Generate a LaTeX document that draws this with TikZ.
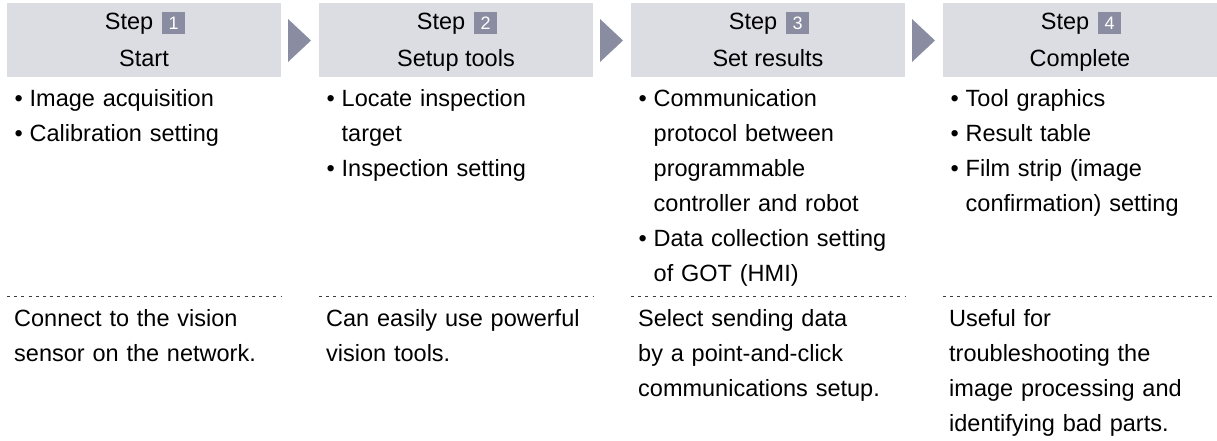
\documentclass[tikz,border=0pt]{standalone}
\usepackage{fontspec}
\setmainfont{Liberation Sans}
\definecolor{hdrfill}{RGB}{220,220,227}
\definecolor{accent}{RGB}{138,141,161}
\definecolor{sepcol}{RGB}{60,60,60}
\newcommand{\numbox}[1]{\raisebox{-4pt}{{\setlength{\fboxsep}{0pt}\colorbox{accent}{\parbox[b][22pt][c]{23pt}{\centering\color{white}\fontsize{18}{18}\selectfont #1}}}}}
\newcommand{\bul}{\makebox[15pt][l]{•}}
\newcommand{\cont}{\hspace*{15pt}}
\newcommand{\firstline}{\rule{0pt}{20pt}}
\tikzset{
  hdr/.style={fill=hdrfill, minimum width=274pt, minimum height=74pt, inner sep=0pt, anchor=north west},
  hdrtxt/.style={anchor=base, inner sep=0pt, font=\fontsize{23.5}{28}\selectfont},
  bodytxt/.style={anchor=north west, inner sep=0pt, text width=272pt, align=left,
    font=\fontsize{23.5}{35}\selectfont\setlength{\parindent}{0pt}\setlength{\parskip}{0pt}},
  sepline/.style={draw=sepcol, line width=0.9pt, dash pattern=on 3pt off 4.2pt},
  steparrow/.style={fill=accent}
}
\begin{document}
\begin{tikzpicture}[x=1pt,y=-1pt]
\useasboundingbox (0,0) rectangle (1217,441);
% header boxes
\node[hdr] (h1) at (7,3) {};
\node[hdr] (h2) at (319,3) {};
\node[hdr] (h3) at (631,3) {};
\node[hdr] (h4) at (943,3) {};
% arrows between headers
\fill[steparrow] (288,19) -- (288,62) -- (311,40.5) -- cycle;
\fill[steparrow] (600,19) -- (600,62) -- (623,40.5) -- cycle;
\fill[steparrow] (912,19) -- (912,62) -- (935,40.5) -- cycle;
% header texts
\node[hdrtxt] (s1) at (145,30) {Step\hspace{9pt}\numbox{1}};
\node[hdrtxt] (t1) at (144,67) {Start};
\node[hdrtxt] (s2) at (457,30) {Step\hspace{9pt}\numbox{2}};
\node[hdrtxt] (t2) at (456,67) {Setup tools};
\node[hdrtxt] (s3) at (769,30) {Step\hspace{9pt}\numbox{3}};
\node[hdrtxt] (t3) at (768,67) {Set results};
\node[hdrtxt] (s4) at (1081,30) {Step\hspace{9pt}\numbox{4}};
\node[hdrtxt] (t4) at (1080,67) {Complete};
% bullet lists
\node[bodytxt] (b1) at (14.5,86) {\firstline\bul Image acquisition\\\bul Calibration setting};
\node[bodytxt] (b2) at (326.5,86) {\firstline\bul Locate inspection\\\cont target\\\bul Inspection setting};
\node[bodytxt] (b3) at (638.5,86) {\firstline\bul Communication\\\cont protocol between\\\cont programmable\\\cont controller and robot\\\bul Data collection setting\\\cont of GOT (HMI)};
\node[bodytxt] (b4) at (950.5,86) {\firstline\bul Tool graphics\\\bul Result table\\\bul Film strip (image\\\cont confirmation) setting};
% dashed separators
\coordinate (l1a) at (7,296);   \coordinate (l1b) at (281,296);
\coordinate (l2a) at (319,296); \coordinate (l2b) at (593,296);
\coordinate (l3a) at (631,296); \coordinate (l3b) at (905,296);
\coordinate (l4a) at (943,296); \coordinate (l4b) at (1217,296);
\draw[sepline] (l1a) -- (l1b);
\draw[sepline] (l2a) -- (l2b);
\draw[sepline] (l3a) -- (l3b);
\draw[sepline] (l4a) -- (l4b);
% descriptions
\node[bodytxt] (d1) at (14,306) {\firstline Connect to the vision\\sensor on the network.};
\node[bodytxt] (d2) at (326,306) {\firstline Can easily use powerful\\vision tools.};
\node[bodytxt] (d3) at (638,306) {\firstline Select sending data\\by a point-and-click\\communications setup.};
\node[bodytxt] (d4) at (949,306) {\firstline Useful for\\troubleshooting the\\image processing and\\identifying bad parts.};
\end{tikzpicture}
\end{document}
